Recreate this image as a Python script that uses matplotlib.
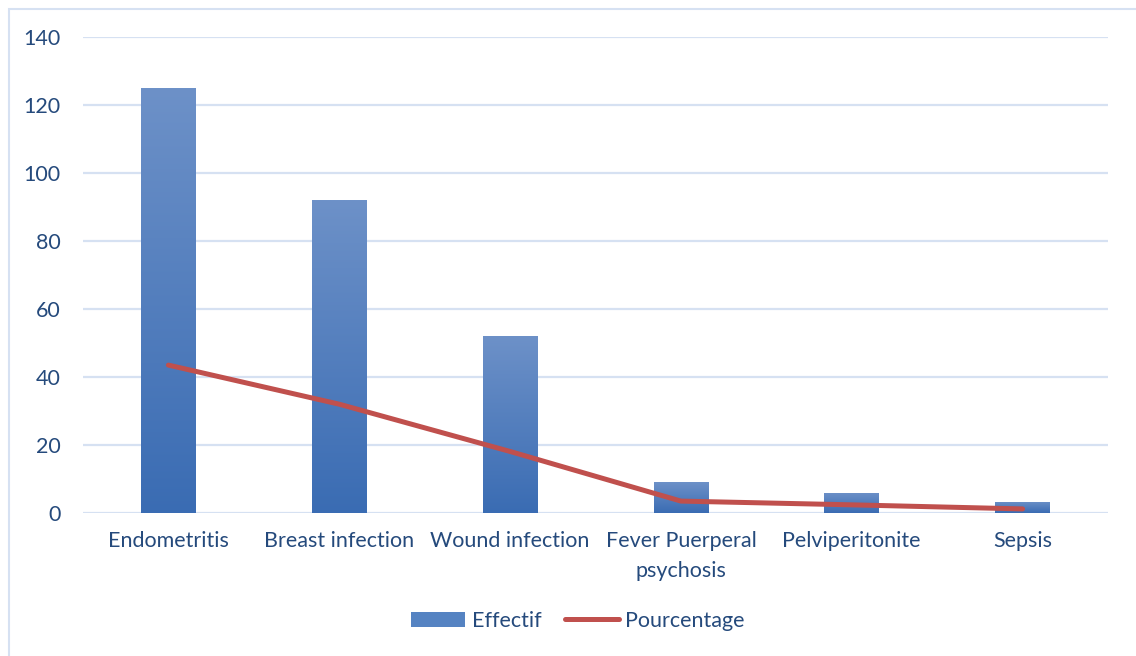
import numpy as np
import matplotlib
matplotlib.use("Agg")
import matplotlib.pyplot as plt
from matplotlib.patches import Rectangle
from matplotlib.lines import Line2D

categories = ["Endometritis", "Breast infection", "Wound infection",
              "Fever Puerperal\npsychosis", "Pelviperitonite", "Sepsis"]
effectif = [125, 92, 52, 9, 6, 3.3]
pourcentage = [43.5, 32, 18.1, 3.5, 2.4, 1.2]

text_col = "#254A7C"
grid_col = "#D6E1F2"
red = "#C0504D"

plt.rcParams['font.family'] = ['Lato', 'DejaVu Sans']

fig = plt.figure(figsize=(11.36, 6.56), dpi=100)
ax = fig.add_axes([83/1136, 1 - 513/656, (1108-83)/1136, (513-37)/656])

x = np.arange(len(categories))
bars = ax.bar(x, effectif, width=0.32, color="#4F7FC0", zorder=2)

# vertical gradient in each bar
grad = np.linspace(0, 1, 256).reshape(-1, 1)
cmap = matplotlib.colors.LinearSegmentedColormap.from_list("g", ["#3A6CB3", "#6D91C8"])
for b in bars:
    bx, by = b.get_x(), b.get_y()
    w, h = b.get_width(), b.get_height()
    im = ax.imshow(grad, extent=[bx, bx + w, by, by + h], origin="lower",
                   cmap=cmap, aspect="auto", zorder=2.5)
    im.set_clip_path(b)

ax.plot(x, pourcentage, color=red, lw=3.6, solid_capstyle="round", zorder=3)

ax.set_xlim(-0.5, len(categories) - 0.5)
ax.set_ylim(0, 140)
ax.set_yticks(range(0, 141, 20))
ax.set_xticks(x)
ax.set_xticklabels(categories, linespacing=1.65)
ax.grid(axis="y", color=grid_col, lw=1.6, zorder=0)
ax.set_axisbelow(True)
for s in ax.spines.values():
    s.set_visible(False)
ax.tick_params(axis="both", length=0, labelsize=15.5, colors=text_col)
ax.tick_params(axis="y", pad=16)
ax.tick_params(axis="x", pad=13)

# legend
handles = [Rectangle((0, 0), 1, 1, facecolor="#5583C2"),
           Line2D([0], [0], color=red, lw=3.6, solid_capstyle="round")]
fig.legend(handles, ["Effectif", "Pourcentage"], loc="center",
           bbox_to_anchor=(578/1136, 1 - 621/656), ncol=2, frameon=False,
           fontsize=15.5, labelcolor=text_col, handlelength=2.5,
           handleheight=0.7, handletextpad=0.3, columnspacing=1.1)

# outer chart border
fig.patches.append(Rectangle((8.5/1136, -0.1), 1.2, 1 - 8.5/656 + 0.1,
                             transform=fig.transFigure, fill=False,
                             edgecolor=grid_col, lw=1.5))

fig.savefig("out.png", dpi=100)
